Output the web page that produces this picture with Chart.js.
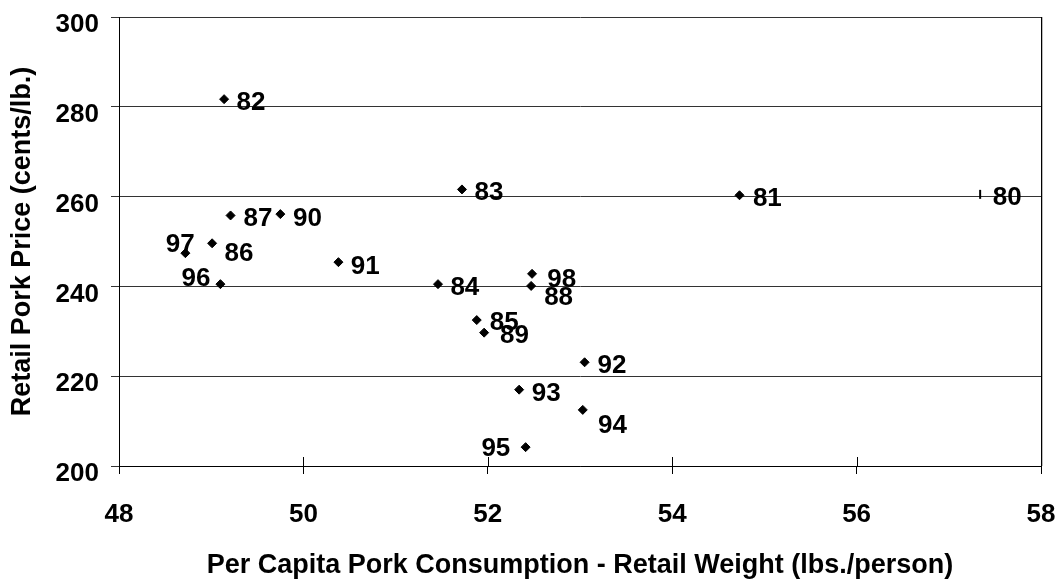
<!DOCTYPE html>
<html>
<head>
<meta charset="utf-8">
<script src="https://cdn.jsdelivr.net/npm/chart.js@4/dist/chart.umd.min.js"></script>
<style>
  html, body { margin: 0; padding: 0; background: #fff; }
  #wrap { width: 1060px; height: 579px; }
</style>
</head>
<body>
<div id="wrap"><canvas id="c" width="1060" height="579"></canvas></div>
<script>
// Year labels (1980-1998) with pork consumption and retail price
const years = ['80','81','82','83','84','85','86','87','88','89','90','91','92','93','94','95','96','97','98'];
const consumption = [57.34, 54.73, 49.14, 51.72, 51.46, 51.88, 49.01, 49.21, 52.47, 51.96, 49.75, 50.38, 53.05, 52.34, 53.03, 52.41, 49.10, 48.72, 52.48];
const price = [260.5, 260.3, 281.7, 261.6, 240.5, 232.5, 249.6, 255.8, 240.1, 229.7, 256.1, 245.4, 223.1, 217.0, 212.5, 204.2, 240.5, 247.4, 242.8];

// Axis ranges and ticks
const xTicks = [48, 50, 52, 54, 56, 58];
const yTicks = [200, 220, 240, 260, 280, 300];

// Placement of each year label relative to its marker: side, dx, dy
const labelPlacement = {
  '80': ['left', 12.7, 3.7], '81': ['left', 13.4, 4], '82': ['left', 12.4, 3.7],
  '83': ['left', 12.6, 3.5], '84': ['left', 12.4, 3.8], '85': ['left', 13, 3],
  '86': ['left', 12.3, 10.4], '87': ['left', 13, 3.8], '88': ['left', 13, 11.5],
  '89': ['left', 16, 3.5], '90': ['left', 12.7, 5.2], '91': ['left', 12.4, 4.2],
  '92': ['left', 13, 3.9], '93': ['left', 12.6, 4.5], '94': ['left', 15.3, 15.8],
  '95': ['right', -15.3, 1.8], '96': ['right', -10, -5.5], '97': ['right', 9.3, -8.8],
  '98': ['left', 15.3, 6.3]
};

const FONT = 'Arial, "Liberation Sans", sans-serif';
const points = years.map((y, i) => ({ x: consumption[i], y: price[i] }));

// Year labels next to each marker
const yearLabels = {
  id: 'yearLabels',
  afterDatasetsDraw(chart) {
    const ctx = chart.ctx;
    const meta = chart.getDatasetMeta(0);
    ctx.save();
    ctx.font = 'bold 26px ' + FONT;
    ctx.fillStyle = '#000';
    ctx.textBaseline = 'middle';
    meta.data.forEach((pt, i) => {
      const [side, dx, dy] = labelPlacement[years[i]];
      ctx.textAlign = side === 'right' ? 'right' : 'left';
      ctx.fillText(years[i], pt.x + dx, pt.y + dy);
    });
    ctx.restore();
  }
};

// Crossing tick marks on the x axis and the right frame line
const frame = {
  id: 'frame',
  afterDraw(chart) {
    const ctx = chart.ctx;
    const area = chart.chartArea;
    const xs = chart.scales.x;
    ctx.save();
    ctx.strokeStyle = '#000';
    ctx.lineWidth = 1;
    xs.ticks.forEach((t, i) => {
      const px = Math.round(xs.getPixelForTick(i)) + 0.5;
      ctx.beginPath();
      ctx.moveTo(px, area.bottom);
      ctx.lineTo(px, area.bottom - 9);
      ctx.stroke();
    });
    const rx = Math.round(area.right) + 0.5;
    ctx.strokeStyle = '#bbb';
    ctx.beginPath();
    ctx.moveTo(rx + 1, area.top);
    ctx.lineTo(rx + 1, area.bottom);
    ctx.stroke();
    ctx.strokeStyle = '#000';
    ctx.beginPath();
    ctx.moveTo(rx, area.top);
    ctx.lineTo(rx, area.bottom);
    ctx.stroke();
    ctx.restore();
  }
};

new Chart(document.getElementById('c'), {
  type: 'scatter',
  data: {
    datasets: [{
      data: points,
      backgroundColor: '#000',
      borderColor: '#000',
      borderWidth: (c) => (years[c.dataIndex] === '80' ? 2 : 1),
      pointStyle: (c) => (years[c.dataIndex] === '80' ? 'line' : 'rectRot'),
      rotation: (c) => (years[c.dataIndex] === '80' ? 90 : 0),
      pointRadius: 4.5,
      pointHoverRadius: 4.5
    }]
  },
  options: {
    responsive: false,
    animation: false,
    events: [],
    layout: { padding: { top: 17, right: 19, left: 0, bottom: 0 } },
    plugins: { legend: { display: false }, tooltip: { enabled: false } },
    scales: {
      x: {
        type: 'linear',
        min: 48, max: 58,
        afterBuildTicks: (s) => { s.ticks = xTicks.map(v => ({ value: v })); },
        afterFit: (s) => { s.height = 113; s.paddingLeft = 0; s.paddingRight = 0; },
        ticks: {
          color: '#000', padding: 25,
          font: { family: FONT, size: 26, weight: 'bold' },
          maxRotation: 0
        },
        grid: { drawOnChartArea: false, drawTicks: true, tickLength: 8, color: '#000' },
        border: { display: true, color: '#000', width: 1 },
        title: {
          display: true,
          text: 'Per Capita Pork Consumption - Retail Weight (lbs./person)',
          color: '#000',
          font: { family: FONT, size: 27, weight: 'bold', lineHeight: 1 },
          padding: { top: 0, bottom: 0 }
        }
      },
      y: {
        type: 'linear',
        min: 200, max: 300,
        afterBuildTicks: (s) => { s.ticks = yTicks.map(v => ({ value: v })); },
        afterFit: (s) => { s.width = 119; s.paddingTop = 0; s.paddingBottom = 0; },
        ticks: {
          color: '#000', padding: 12, labelOffset: 8,
          font: { family: FONT, size: 26, weight: 'bold' }
        },
        grid: { color: '#333', tickLength: 8, lineWidth: 1 },
        border: { display: true, color: '#000', width: 1 },
        title: {
          display: true,
          text: 'Retail Pork Price (cents/lb.)',
          color: '#000',
          font: { family: FONT, size: 27, weight: 'bold', lineHeight: 1.2 },
          padding: { top: 6, bottom: 0 }
        }
      }
    }
  },
  plugins: [yearLabels, frame]
});
</script>
</body>
</html>
